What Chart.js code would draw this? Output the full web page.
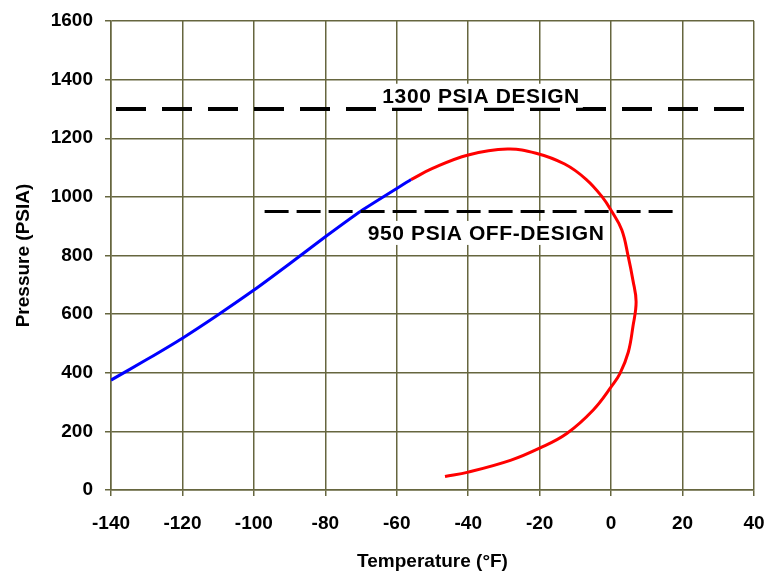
<!DOCTYPE html>
<html>
<head>
<meta charset="utf-8">
<script src="https://cdn.jsdelivr.net/npm/chart.js@4/dist/chart.umd.min.js"></script>
<style>
  html, body { margin: 0; padding: 0; background: #fff; }
  #wrap { width: 768px; height: 573px; }
</style>
</head>
<body>
<div id="wrap"><canvas id="chart" width="768" height="573"></canvas></div>
<script>
// Axis ticks
const xTicks = [-140, -120, -100, -80, -60, -40, -20, 0, 20, 40];
const yTicks = [0, 200, 400, 600, 800, 1000, 1200, 1400, 1600];

// Blue branch (liquid side)
const blueTemp = [-140, -130, -120, -110, -100, -90, -80, -70, -56];
const bluePres = [375, 445, 518, 598, 682, 772, 864, 952, 1059];

// Red branch (vapour side)
const redTemp = [-56, -50, -40, -29, -21, -13, -7, -2.5, 0.2, 3, 4.8, 6.1, 7, 6.1, 4.8, 2.5, 0.2, -5, -12.4, -20, -28, -40, -46.5];
const redPres = [1059, 1097, 1143, 1163, 1149, 1112, 1060, 1000, 950, 887, 796, 716, 642, 557, 470, 398, 355, 273, 193, 143, 102, 61, 46];

// Reference pressure lines
const designTemp = [-140, 40];
const designPres = [1300, 1300];
const offDesignTemp = [-97, 19];
const offDesignPres = [950, 950];

function pts(xs, ys) {
    return xs.map((x, i) => ({ x: x, y: ys[i] }));
}

// Labels for the two reference lines, placed in data coordinates
const lineLabels = [
    { text: '1300 PSIA DESIGN', x: -36.4, y: 1345 },
    { text: '950 PSIA OFF-DESIGN', x: -35, y: 877 }
];

const labelPlugin = {
    id: 'lineLabels',
    afterDatasetsDraw(chart) {
        const c = chart.ctx;
        const xs = chart.scales.x, ys = chart.scales.y;
        c.save();
        c.font = 'bold 21px "Liberation Sans", Arial, sans-serif';
        c.letterSpacing = '0.6px';
        c.textAlign = 'center';
        c.textBaseline = 'middle';
        lineLabels.forEach(l => {
            const px = xs.getPixelForValue(l.x);
            const py = ys.getPixelForValue(l.y);
            const w = c.measureText(l.text).width;
            c.fillStyle = '#fff';
            c.fillRect(px - w / 2 - 3, py - 12, w + 6, 24);
            c.fillStyle = '#000';
            c.fillText(l.text, px, py + 1);
        });
        c.restore();
    }
};

const font = { family: '"Liberation Sans", Arial, sans-serif', size: 19, weight: 'bold' };
const gridColor = '#66663f';

new Chart(document.getElementById('chart'), {
    type: 'scatter',
    data: {
        datasets: [
            { data: pts(designTemp, designPres), showLine: true, borderColor: '#000', borderWidth: 4, borderDash: [30, 16], borderDashOffset: -5, pointRadius: 0 },
            { data: pts(offDesignTemp, offDesignPres), showLine: true, borderColor: '#000', borderWidth: 3, borderDash: [24, 8], pointRadius: 0 },
            { data: pts(blueTemp, bluePres), showLine: true, borderColor: '#0000ff', borderWidth: 3, tension: 0.2, pointRadius: 0 },
            { data: pts(redTemp, redPres), showLine: true, borderColor: '#ff0000', borderWidth: 3, tension: 0.4, pointRadius: 0 }
        ]
    },
    options: {
        responsive: false,
        animation: false,
        layout: { padding: { top: 21, right: 14, left: 0, bottom: 0 } },
        plugins: { legend: { display: false }, tooltip: { enabled: false } },
        scales: {
            x: {
                type: 'linear',
                min: -140, max: 40,
                afterBuildTicks: s => { s.ticks = xTicks.map(v => ({ value: v })); },
                afterFit: s => { s.height = 83; s.paddingLeft = 0; s.paddingRight = 0; },
                ticks: { color: '#000', font: font, padding: 16 },
                grid: { color: gridColor, lineWidth: 1.5, tickLength: 6 },
                border: { color: gridColor, width: 1.5 },
                title: { display: true, text: 'Temperature (°F)', color: '#000', font: font, padding: { top: 8, bottom: 0 } }
            },
            y: {
                type: 'linear',
                min: 0, max: 1600,
                afterBuildTicks: s => { s.ticks = yTicks.map(v => ({ value: v })); },
                afterFit: s => { s.width = 111; s.paddingTop = 0; s.paddingBottom = 0; },
                ticks: { color: '#000', font: font, padding: 12, callback: v => String(v) },
                grid: { color: gridColor, lineWidth: 1.5, tickLength: 6 },
                border: { color: gridColor, width: 1.5 },
                title: { display: true, text: 'Pressure (PSIA)', color: '#000', font: font, padding: { top: 12, bottom: 4 } }
            }
        }
    },
    plugins: [labelPlugin]
});
</script>
</body>
</html>
